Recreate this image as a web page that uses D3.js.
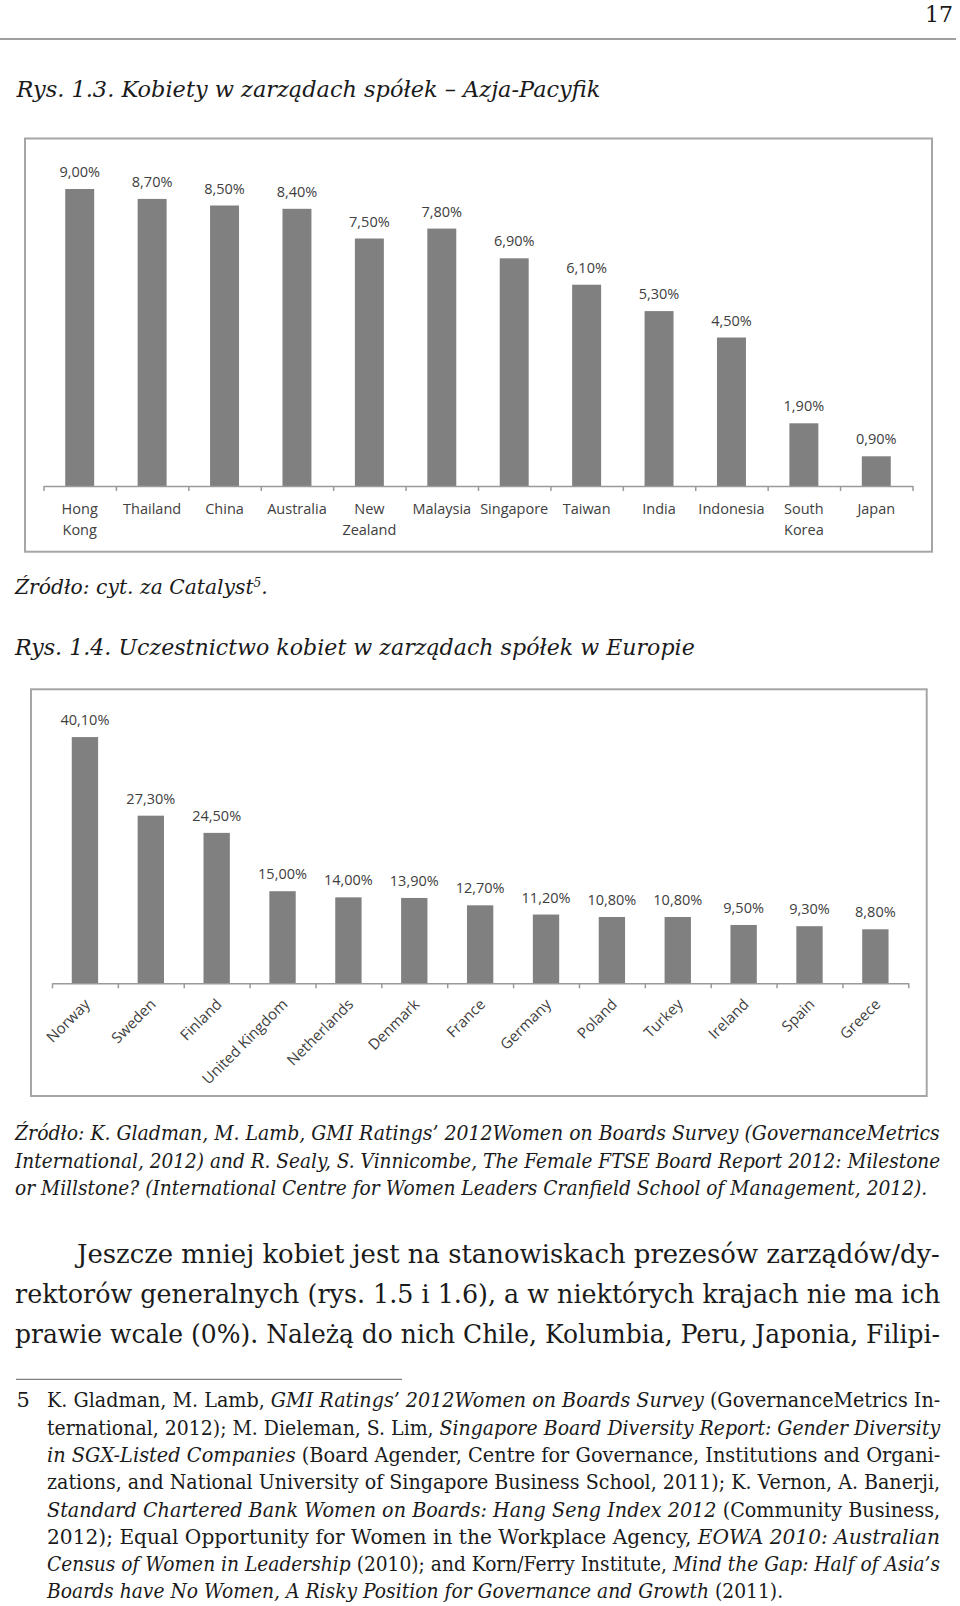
<!DOCTYPE html>
<html>
<head>
<meta charset="utf-8">
<script src="https://cdn.jsdelivr.net/npm/d3@7"></script>
<style>
  body { margin: 0; background: #fff; }
  svg { display: block; }
</style>
</head>
<body>
<script>
// chart 1 - Asia-Pacific
var asiaCountries = ["Hong Kong", "Thailand", "China", "Australia", "New Zealand", "Malaysia",
  "Singapore", "Taiwan", "India", "Indonesia", "South Korea", "Japan"];
var asiaValues = [9.0, 8.7, 8.5, 8.4, 7.5, 7.8, 6.9, 6.1, 5.3, 4.5, 1.9, 0.9];

// chart 2 - Europe
var euCountries = ["Norway", "Sweden", "Finland", "United Kingdom", "Netherlands", "Denmark",
  "France", "Germany", "Poland", "Turkey", "Ireland", "Spain", "Greece"];
var euValues = [40.1, 27.3, 24.5, 15.0, 14.0, 13.9, 12.7, 11.2, 10.8, 10.8, 9.5, 9.3, 8.8];

var serif = "'DejaVu Serif', 'Liberation Serif', serif";
var sans = "'Open Sans', 'Noto Sans', sans-serif";
var ink = "#1a1a1a";

var svg = d3.select("body").append("svg")
    .attr("width", 960)
    .attr("height", 1606);

// one line of page text, squeezed to the width it has in the book
function textLine(x, y, target, runs, size, italic) {
  var g = svg.append("g");
  var t = g.append("text")
      .attr("font-family", serif)
      .attr("font-size", size)
      .attr("fill", ink);
  runs.forEach(function(r) {
    if (typeof r === "string") r = [r, italic];
    var s = t.append("tspan")
        .attr("font-style", r[1] ? "italic" : "normal")
        .text(r[0]);
    if (r[2]) s.attr("baseline-shift", "super").attr("font-size", size * 0.6);
  });
  var w = t.node().getComputedTextLength();
  g.attr("transform", "translate(" + x + "," + y + ") scale(" + (target / w) + ",1)");
}

function fmt(v) { return v.toFixed(2).replace(".", ",") + "%"; }

function barChart(opt) {
  svg.append("rect")
      .attr("x", opt.frame[0]).attr("y", opt.frame[1])
      .attr("width", opt.frame[2] - opt.frame[0])
      .attr("height", opt.frame[3] - opt.frame[1])
      .attr("fill", "none")
      .attr("stroke", "#a6a6a6")
      .attr("stroke-width", 2);

  var x = d3.scaleBand()
      .domain(opt.cats)
      .range([opt.x0, opt.x1])
      .paddingInner(0.6)
      .paddingOuter(0.3);

  var y = d3.scaleLinear()
      .domain([0, opt.max])
      .range([opt.y0, opt.top]);

  var tickX = d3.scaleLinear().domain([0, opt.cats.length]).range([opt.x0, opt.x1]);

  var g = svg.append("g");

  g.selectAll(".bar")
    .data(opt.vals)
    .enter().append("rect")
      .attr("x", function(d, i) { return x(opt.cats[i]); })
      .attr("y", function(d) { return y(d); })
      .attr("width", x.bandwidth())
      .attr("height", function(d) { return y(0) - y(d); })
      .attr("fill", "#808080");

  g.selectAll(".val")
    .data(opt.vals)
    .enter().append("text")
      .attr("x", function(d, i) { return x(opt.cats[i]) + x.bandwidth() / 2; })
      .attr("y", function(d) { return y(d) - 12; })
      .attr("text-anchor", "middle")
      .attr("font-family", sans)
      .attr("font-size", 14.5)
      .attr("fill", "#404040")
      .text(fmt);

  var axis = g.append("g")
      .attr("transform", "translate(0," + opt.y0 + ")")
      .call(d3.axisBottom(tickX)
        .tickValues(d3.range(opt.cats.length + 1))
        .tickSize(5)
        .tickSizeOuter(0)
        .tickFormat(""));
  axis.selectAll("path, line").attr("stroke", "#9a9a9a").attr("stroke-width", 1.5);

  var labels = g.selectAll(".cat")
    .data(opt.cats)
    .enter().append("text")
      .attr("font-family", sans)
      .attr("font-size", opt.rotate ? 15 : 14.5)
      .attr("fill", "#404040");

  if (opt.rotate) {
    labels
      .attr("text-anchor", "end")
      .attr("transform", function(d) {
        return "translate(" + (x(d) + x.bandwidth() / 2 + 6) + "," + (opt.y0 + 22) + ") rotate(-45)";
      })
      .text(function(d) { return d; });
  } else {
    labels.attr("text-anchor", "middle")
      .each(function(d) {
        var cx = x(d) + x.bandwidth() / 2;
        d3.select(this).selectAll("tspan")
          .data(d.split(" "))
          .enter().append("tspan")
            .attr("x", cx)
            .attr("y", function(w, i) { return opt.y0 + 28 + i * 21; })
            .text(function(w) { return w; });
      });
  }
}

// page header
svg.append("text")
    .attr("x", 953).attr("y", 21.5)
    .attr("text-anchor", "end")
    .attr("font-family", serif)
    .attr("font-size", 22)
    .attr("fill", ink)
    .text("17");
svg.append("line")
    .attr("x1", 0).attr("x2", 956)
    .attr("y1", 39).attr("y2", 39)
    .attr("stroke", "#808080").attr("stroke-width", 1.5);

textLine(16.5, 96.7, 584, ["Rys. 1.3. Kobiety w zarządach spółek – Azja-Pacyfik"], 23, true);

barChart({
  cats: asiaCountries, vals: asiaValues,
  frame: [25, 138.5, 932, 551.7],
  x0: 43.5, x1: 912.5, y0: 486, top: 156, max: 10,
  rotate: false
});

textLine(15, 594.3, 253, ["Źródło: cyt. za Catalyst", ["5", true, true], "."], 21, true);

textLine(15, 655, 680, ["Rys. 1.4. Uczestnictwo kobiet w zarządach spółek w Europie"], 23, true);

barChart({
  cats: euCountries, vals: euValues,
  frame: [31, 689.3, 926.7, 1096],
  x0: 52, x1: 908.3, y0: 983.3, top: 707, max: 45,
  rotate: true
});

// source of chart 2
var srcLines = [
  "Źródło: K. Gladman, M. Lamb, GMI Ratings’ 2012Women on Boards Survey (GovernanceMetrics",
  "International, 2012) and R. Sealy, S. Vinnicombe, The Female FTSE Board Report 2012: Milestone",
  "or Millstone? (International Centre for Women Leaders Cranfield School of Management, 2012)."
];
var srcEnds = [940.5, 940.5, 928];
srcLines.forEach(function(s, i) {
  textLine(15, 1140 + i * 27.5, srcEnds[i] - 15, [s], 21, true);
});

// body paragraph
var paraLines = [
  "Jeszcze mniej kobiet jest na stanowiskach prezesów zarządów/dy-",
  "rektorów generalnych (rys. 1.5 i 1.6), a w niektórych krajach nie ma ich",
  "prawie wcale (0%). Należą do nich Chile, Kolumbia, Peru, Japonia, Filipi-"
];
paraLines.forEach(function(s, i) {
  var x0 = i === 0 ? 77 : 15;
  textLine(x0, 1263 + i * 40, 940.5 - x0, [s], 26, false);
});

// footnote
svg.append("line")
    .attr("x1", 16).attr("x2", 402)
    .attr("y1", 1379.3).attr("y2", 1379.3)
    .attr("stroke", "#808080").attr("stroke-width", 1.2);

svg.append("text")
    .attr("x", 16.5).attr("y", 1407.3)
    .attr("font-family", serif)
    .attr("font-size", 21)
    .attr("fill", ink)
    .text("5");

var noteLines = [
  [["K. Gladman, M. Lamb, ", false], ["GMI Ratings’ 2012Women on Boards Survey", true], [" (GovernanceMetrics In-", false]],
  [["ternational, 2012); M. Dieleman, S. Lim, ", false], ["Singapore Board Diversity Report: Gender Diversity", true]],
  [["in SGX-Listed Companies", true], [" (Board Agender, Centre for Governance, Institutions and Organi-", false]],
  [["zations, and National University of Singapore Business School, 2011); K. Vernon, A. Banerji,", false]],
  [["Standard Chartered Bank Women on Boards: Hang Seng Index 2012", true], [" (Community Business,", false]],
  [["2012); Equal Opportunity for Women in the Workplace Agency, ", false], ["EOWA 2010: Australian", true]],
  [["Census of Women in Leadership", true], [" (2010); and Korn/Ferry Institute, ", false], ["Mind the Gap: Half of Asia’s", true]],
  [["Boards have No Women, A Risky Position for Governance and Growth", true], [" (2011).", false]]
];
noteLines.forEach(function(runs, i) {
  var end = i === noteLines.length - 1 ? 784 : 940.5;
  textLine(47, 1407.3 + i * 27.3, end - 47, runs, 21, false);
});
</script>
</body>
</html>
